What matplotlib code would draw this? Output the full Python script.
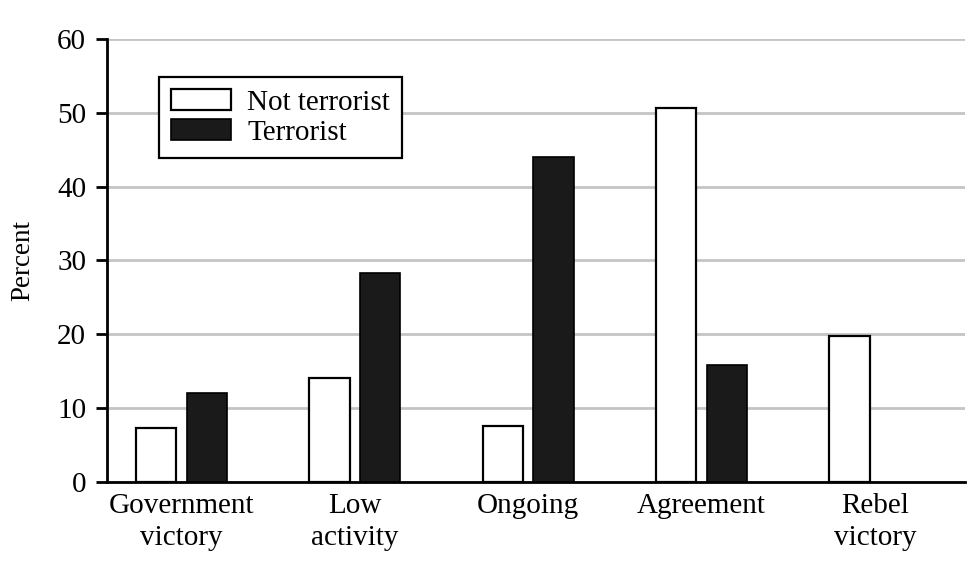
import numpy as np
import matplotlib.pyplot as plt
from matplotlib.patches import Patch

categories = ['Government\nvictory', 'Low\nactivity', 'Ongoing', 'Agreement', 'Rebel\nvictory']
not_terrorist = [7.3, 14.0, 7.6, 50.7, 19.8]
terrorist = [12.0, 28.3, 44.0, 15.8, 0.0]
series_names = ['Not terrorist', 'Terrorist']

plt.rcParams['font.family'] = ['Liberation Serif', 'DejaVu Serif']

fig = plt.figure(figsize=(9.8, 5.71), dpi=100)
ax = fig.add_axes([0.1092, 0.1564, 0.8755, 0.7753])

x = np.arange(len(categories))
w = 0.232
off = 0.146
ax.bar(x - off, not_terrorist, w, color='white', edgecolor='black', linewidth=1.6, zorder=3)
# rebel victory has no terrorist bar, so skip the zero
t_vals = np.array(terrorist)
ax.bar(x[t_vals > 0] + off, t_vals[t_vals > 0], w, color='#1a1a1a', edgecolor='black',
       linewidth=1.2, zorder=3)

ax.set_xlim(-0.43, 4.52)
ax.set_ylim(0, 60)
ax.set_yticks(range(0, 61, 10))
ax.yaxis.grid(True, color='#c4c4c4', linewidth=2, zorder=0)
ax.set_axisbelow(True)

for s in ['top', 'right']:
    ax.spines[s].set_visible(False)
ax.spines['left'].set_linewidth(2)
ax.spines['bottom'].set_linewidth(2)

ax.set_xticks(x)
ax.set_xticklabels(categories, fontsize=21, linespacing=1.3)
ax.tick_params(axis='x', length=0, pad=8)
ax.tick_params(axis='y', length=8, width=2, labelsize=21, pad=7)
ax.set_ylabel('Percent', fontsize=19.5, labelpad=16)

handles = [Patch(facecolor='white', edgecolor='black', linewidth=1.6),
           Patch(facecolor='#1a1a1a', edgecolor='black', linewidth=1.2)]
leg = fig.legend(handles, series_names, loc='upper left',
                 bbox_to_anchor=(0.1622, 0.8651), bbox_transform=fig.transFigure,
                 fontsize=21, fancybox=False, framealpha=1, edgecolor='black',
                 borderaxespad=0, handlelength=2.05, handleheight=0.72,
                 handletextpad=0.55, labelspacing=0.12, borderpad=0.42)
leg.get_frame().set_linewidth(1.6)

fig.savefig('out.png', dpi=100)
